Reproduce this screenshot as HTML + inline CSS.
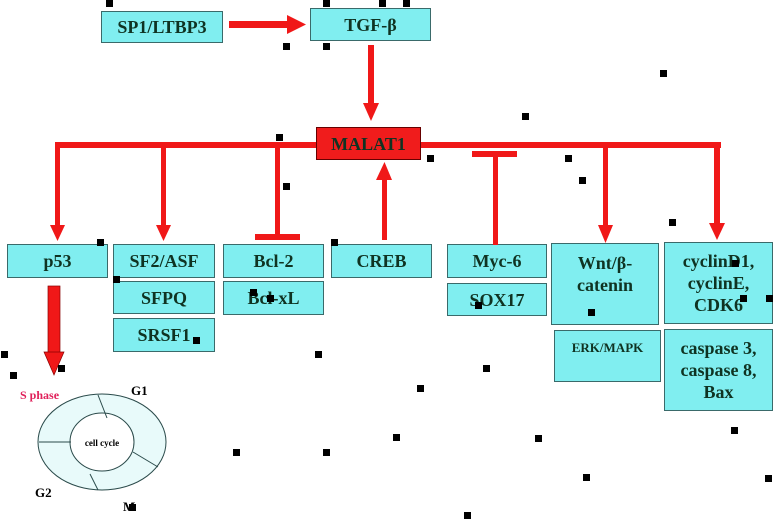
<!DOCTYPE html>
<html><head><meta charset="utf-8"><style>
body{margin:0;width:779px;height:519px;background:#fff;position:relative;overflow:hidden;font-family:"Liberation Serif",serif;}
.b{position:absolute;background:#80eef0;border:1.5px solid #3a6a6a;box-sizing:border-box;display:flex;align-items:center;justify-content:center;text-align:center;font-weight:bold;font-size:18px;color:#0f3322;line-height:22px;}
.d{position:absolute;width:7px;height:7px;background:#000;}
svg{position:absolute;left:0;top:0;}
</style></head><body>
<div class="b" style="left:101px;top:11px;width:122px;height:32px">SP1/LTBP3</div>
<div class="b" style="left:310px;top:8px;width:121px;height:33px">TGF-β</div>
<div class="b" style="left:316px;top:127px;width:105px;height:33px;background:#f01c1c;border-color:#600">MALAT1</div>
<div class="b" style="left:7px;top:244px;width:101px;height:34px">p53</div>
<div class="b" style="left:113px;top:244px;width:102px;height:34px">SF2/ASF</div>
<div class="b" style="left:113px;top:281px;width:102px;height:33px">SFPQ</div>
<div class="b" style="left:113px;top:318px;width:102px;height:34px">SRSF1</div>
<div class="b" style="left:223px;top:244px;width:101px;height:34px">Bcl-2</div>
<div class="b" style="left:223px;top:281px;width:101px;height:34px">Bcl-xL</div>
<div class="b" style="left:331px;top:244px;width:101px;height:34px">CREB</div>
<div class="b" style="left:447px;top:244px;width:100px;height:34px">Myc-6</div>
<div class="b" style="left:447px;top:283px;width:100px;height:33px">SOX17</div>
<div class="b" style="left:551px;top:243px;width:108px;height:82px;align-items:flex-start;padding-top:8px">Wnt/β-<br>catenin</div>
<div class="b" style="left:554px;top:330px;width:107px;height:52px;align-items:flex-start;padding-top:6px;font-size:13px">ERK/MAPK</div>
<div class="b" style="left:664px;top:242px;width:109px;height:82px">cyclinD1,<br>cyclinE,<br>CDK6</div>
<div class="b" style="left:664px;top:329px;width:109px;height:82px">caspase 3,<br>caspase 8,<br>Bax</div>
<svg width="779" height="519">
<g fill="#f01818" stroke="none">
<rect x="229" y="21" width="60" height="7"/><polygon points="287,15 306,24.5 287,34"/>
<rect x="368" y="45" width="6" height="60"/><polygon points="363,103 379,103 371,121"/>
<rect x="55" y="142" width="261" height="6"/><rect x="421" y="142" width="300" height="6"/>
<rect x="55" y="142" width="5" height="85"/><polygon points="50,225 65,225 57.5,241"/>
<rect x="161" y="142" width="5" height="85"/><polygon points="156,225 171,225 163.5,241"/>
<rect x="275" y="142" width="5" height="92"/><rect x="255" y="234" width="45" height="6"/>
<rect x="382" y="178" width="5" height="62"/><polygon points="376,180 392,180 384.5,162"/>
<rect x="472" y="151" width="45" height="6"/><rect x="493" y="151" width="5" height="94"/>
<rect x="603" y="142" width="5" height="85"/><polygon points="598,225 613,225 605.5,243"/>
<rect x="714" y="142" width="6" height="83"/><polygon points="709,223 725,223 717,240"/>
<rect x="48" y="286" width="12" height="68" stroke="#800" stroke-width="0.7"/><polygon points="44,352 64,352 54,375" stroke="#800" stroke-width="0.7"/>
</g>
<ellipse cx="102" cy="442" rx="64" ry="48" fill="#e8fafa" stroke="#2a4a4a" stroke-width="1"/>
<ellipse cx="102" cy="442" rx="32" ry="29" fill="#fff" stroke="#2a4a4a" stroke-width="1"/>
<g stroke="#2a4a4a" stroke-width="1">
<line x1="107" y1="418" x2="98" y2="395"/><line x1="39" y1="442" x2="71" y2="442"/>
<line x1="133" y1="452" x2="158" y2="467"/><line x1="90" y1="474" x2="98" y2="490"/></g>
<g font-family="Liberation Serif,serif" font-weight="bold">
<text x="102" y="446" font-size="9" text-anchor="middle" fill="#000">cell cycle</text>
<text x="20" y="399" font-size="12" fill="#e0205a">S phase</text>
<text x="131" y="395" font-size="13" fill="#000">G1</text>
<text x="35" y="497" font-size="13" fill="#000">G2</text>
<text x="123" y="511" font-size="13" fill="#000">M</text>
</g>
</svg>
<div class="d" style="left:106px;top:0px"></div><div class="d" style="left:323px;top:0px"></div>
<div class="d" style="left:379px;top:0px"></div><div class="d" style="left:403px;top:0px"></div>
<div class="d" style="left:283px;top:43px"></div><div class="d" style="left:323px;top:43px"></div>
<div class="d" style="left:660px;top:70px"></div><div class="d" style="left:522px;top:113px"></div>
<div class="d" style="left:276px;top:134px"></div><div class="d" style="left:427px;top:155px"></div>
<div class="d" style="left:565px;top:155px"></div><div class="d" style="left:579px;top:177px"></div>
<div class="d" style="left:283px;top:183px"></div><div class="d" style="left:669px;top:219px"></div>
<div class="d" style="left:97px;top:239px"></div><div class="d" style="left:331px;top:239px"></div>
<div class="d" style="left:113px;top:276px"></div><div class="d" style="left:193px;top:337px"></div>
<div class="d" style="left:1px;top:351px"></div><div class="d" style="left:58px;top:365px"></div>
<div class="d" style="left:10px;top:372px"></div><div class="d" style="left:250px;top:289px"></div>
<div class="d" style="left:267px;top:295px"></div><div class="d" style="left:315px;top:351px"></div>
<div class="d" style="left:233px;top:449px"></div><div class="d" style="left:323px;top:449px"></div>
<div class="d" style="left:129px;top:504px"></div><div class="d" style="left:732px;top:260px"></div>
<div class="d" style="left:740px;top:295px"></div><div class="d" style="left:588px;top:309px"></div>
<div class="d" style="left:475px;top:302px"></div><div class="d" style="left:483px;top:365px"></div>
<div class="d" style="left:731px;top:427px"></div><div class="d" style="left:464px;top:512px"></div>
<div class="d" style="left:393px;top:434px"></div><div class="d" style="left:417px;top:385px"></div>
<div class="d" style="left:535px;top:435px"></div><div class="d" style="left:583px;top:474px"></div>
<div class="d" style="left:765px;top:475px"></div><div class="d" style="left:766px;top:295px"></div>
</body></html>
